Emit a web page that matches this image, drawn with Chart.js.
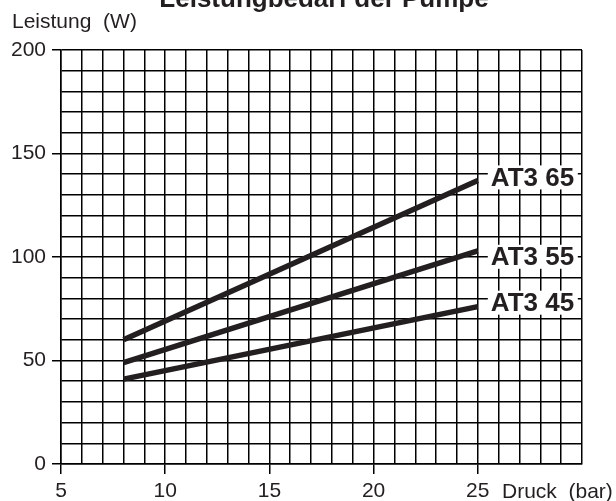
<!DOCTYPE html>
<html>
<head>
<meta charset="utf-8">
<script src="https://cdn.jsdelivr.net/npm/chart.js@4/dist/chart.umd.min.js"></script>
<style>
  html, body { margin: 0; padding: 0; background: #fff; }
  canvas { display: block; }
</style>
</head>
<body>
<canvas id="chart" width="616" height="501"></canvas>
<script>
// Daten
const druck = [8, 25];
const at365 = [60, 137];
const at355 = [49, 103];
const at345 = [41, 76];
const serienNamen = ['AT3 65', 'AT3 55', 'AT3 45'];
const xBeschriftung = [5, 10, 15, 20, 25];
const yBeschriftung = [0, 50, 100, 150, 200];

const schrift = '"Liberation Sans", Arial, sans-serif';
const dunkel = '#231f20';
const labelVersatz = [-3, 6, -4];

function punkte(werte) {
    return druck.map((d, i) => ({ x: d, y: werte[i] }));
}

const beschriftung = {
    id: 'beschriftung',
    afterDatasetsDraw(chart) {
        const ctx = chart.ctx;
        ctx.save();
        // Serienbeschriftungen mit weissem Hintergrund
        chart.data.datasets.forEach((ds, i) => {
            const meta = chart.getDatasetMeta(i);
            const last = meta.data[meta.data.length - 1];
            const y = last.y + labelVersatz[i];
            ctx.fillStyle = '#fff';
            ctx.fillRect(last.x + 10, y - 12, 90, 24);
            ctx.fillStyle = dunkel;
            ctx.font = 'bold 26px ' + schrift;
            ctx.textBaseline = 'middle';
            ctx.textAlign = 'left';
            ctx.fillText(ds.label, last.x + 13, y + 1);
        });
        // Titel und Achsentitel
        ctx.fillStyle = dunkel;
        ctx.textAlign = 'center';
        ctx.textBaseline = 'alphabetic';
        ctx.font = 'bold 26px ' + schrift;
        ctx.fillText('Leistungbedarf der Pumpe', 324, 7);
        ctx.textAlign = 'left';
        ctx.font = '21px ' + schrift;
        ctx.fillText('Leistung  (W)', 12, 28);
        ctx.textBaseline = 'middle';
        ctx.fillText('Druck  (bar)', 502, 492);
        ctx.restore();
    }
};

new Chart(document.getElementById('chart'), {
    type: 'line',
    data: {
        datasets: [
            { label: serienNamen[0], data: punkte(at365) },
            { label: serienNamen[1], data: punkte(at355) },
            { label: serienNamen[2], data: punkte(at345) }
        ].map(ds => Object.assign(ds, {
            borderColor: dunkel,
            borderWidth: 5.5,
            borderCapStyle: 'butt',
            pointRadius: 0,
            fill: false
        }))
    },
    options: {
        responsive: false,
        animation: false,
        devicePixelRatio: 1,
        layout: { padding: { top: 50, right: 34, left: 0, bottom: 0 } },
        plugins: {
            legend: { display: false },
            tooltip: { enabled: false },
            title: { display: false }
        },
        scales: {
            x: {
                type: 'linear',
                min: 5,
                max: 30,
                afterFit: s => { s.height = 37; },
                border: { color: '#000', width: 1.5 },
                grid: {
                    color: '#000',
                    lineWidth: 1.5,
                    tickLength: 10,
                    tickColor: c => xBeschriftung.includes(c.tick.value) ? '#000' : 'rgba(0,0,0,0)',
                    tickWidth: 1.5
                },
                ticks: {
                    stepSize: 1,
                    autoSkip: false,
                    maxRotation: 0,
                    padding: 5,
                    color: dunkel,
                    font: { family: schrift, size: 21 },
                    callback: v => xBeschriftung.includes(v) ? String(v) : ''
                }
            },
            y: {
                min: 0,
                max: 200,
                afterFit: s => { s.width = 61; },
                border: { color: '#000', width: 1.5 },
                grid: {
                    color: '#000',
                    lineWidth: 1.5,
                    tickLength: 9,
                    tickColor: c => yBeschriftung.includes(c.tick.value) ? '#000' : 'rgba(0,0,0,0)',
                    tickWidth: 1.5
                },
                ticks: {
                    stepSize: 10,
                    autoSkip: false,
                    padding: 6,
                    color: dunkel,
                    font: { family: schrift, size: 21 },
                    callback: v => yBeschriftung.includes(v) ? String(v) : ''
                }
            }
        }
    },
    plugins: [beschriftung]
});
</script>
</body>
</html>
